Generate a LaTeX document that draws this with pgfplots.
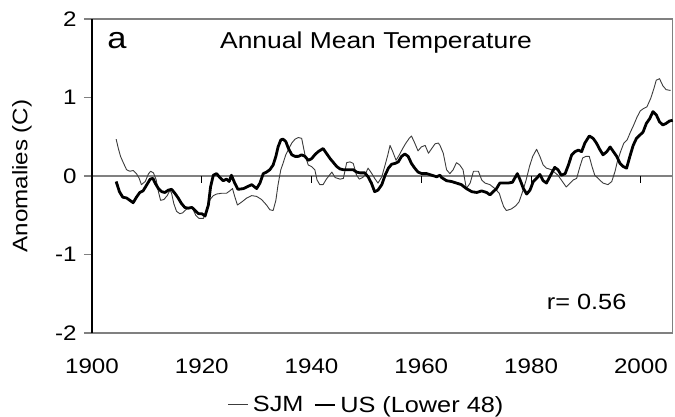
\documentclass[border=0pt]{standalone}
\usepackage{fontspec}
\setmainfont{Liberation Sans}[FakeStretch=1.15]
\usepackage{pgfplots}
\pgfplotsset{compat=1.18}
\definecolor{boxgray}{RGB}{128,128,128}
\definecolor{thingray}{RGB}{60,60,60}
\begin{document}
\begin{tikzpicture}
\path[use as bounding box] (-92bp,-84bp) rectangle (583bp,333bp);
\begin{axis}[
  scale only axis,
  width=580.7bp, height=314bp,
  xmin=1900, xmax=2005.8,
  ymin=-2, ymax=2,
  ytick={-2,-1,0,1,2},
  yticklabels={-2,-1,0,1,2},
  xtick={1900,1920,1940,1960,1980,2000},
  xticklabels={1900,1920,1940,1960,1980,2000},
  ytick pos=left,
  tick align=outside,
  major tick length=8bp,
  ytick style={draw=boxgray, line width=1.2bp},
  xtick style={draw=none},
  axis line style={draw=boxgray, line width=1.2bp},
  xticklabel style={font=\fontsize{21bp}{25bp}\selectfont, yshift=-14bp},
  yticklabel style={font=\fontsize{21bp}{25bp}\selectfont, xshift=-4bp},
  ylabel={Anomalies (C)},
  every axis y label/.style={at={(axis description cs:-0.1205,0.5)}, rotate=90, anchor=center, font=\fontsize{21bp}{25bp}\selectfont},
  clip=false,
  legend columns=2,
  legend style={at={(axis description cs:0.473,-0.229)}, anchor=center, draw=none, fill=none,
    font=\fontsize{22bp}{26bp}\selectfont, inner sep=0pt,
    /tikz/every even column/.append style={column sep=8bp},
    /tikz/every odd column/.append style={column sep=2bp}},
  legend image code/.code={\draw[#1] (0bp,0bp) -- (20bp,0bp);},
]
% zero line
\addplot[boxgray, line width=1.4bp, forget plot] coordinates {(1900,0) (2005.8,0)};
% x tick marks on zero line
\addplot[black, line width=0.8bp, ycomb, forget plot] coordinates {(1920,-0.085) (1940,-0.085) (1960,-0.085) (1980,-0.085) (2000,-0.085)};
% SJM
\addplot[thingray, line width=0.9bp, line join=round] coordinates {
(1904.4,0.47)(1904.8,0.35)(1905.2,0.25)(1905.7,0.17)(1906.3,0.08)(1906.9,0.06)(1907.5,0.07)(1908.1,0.03)
(1908.6,-0.03)(1909.0,-0.11)(1909.7,-0.07)(1910.3,0.03)(1910.7,0.06)(1911.2,0.04)(1911.7,-0.05)(1912.1,-0.20)
(1912.5,-0.31)(1913.1,-0.30)(1913.7,-0.25)(1914.2,-0.18)(1914.5,-0.22)(1914.9,-0.35)(1915.4,-0.45)(1916.0,-0.48)
(1916.5,-0.47)(1917.1,-0.43)(1917.7,-0.40)(1918.3,-0.41)(1918.9,-0.50)(1919.5,-0.54)(1920.3,-0.54)(1920.9,-0.43)
(1921.5,-0.30)(1922.1,-0.25)(1922.7,-0.23)(1923.6,-0.22)(1924.5,-0.22)(1925.1,-0.19)(1925.6,-0.16)(1926.0,-0.26)
(1926.5,-0.37)(1927.3,-0.33)(1928.2,-0.28)(1929.1,-0.25)(1930.0,-0.26)(1930.9,-0.30)(1931.8,-0.37)(1932.4,-0.43)
(1933.0,-0.44)(1933.5,-0.31)(1933.9,-0.11)(1934.4,0.08)(1934.8,0.16)(1935.3,0.27)(1935.8,0.34)(1936.4,0.42)
(1937.0,0.47)(1937.6,0.49)(1938.2,0.48)(1938.8,0.27)(1939.4,0.14)(1940.0,0.12)(1940.6,0.08)(1941.0,-0.05)
(1941.5,-0.11)(1942.1,-0.11)(1942.7,-0.04)(1943.7,0.05)(1944.3,-0.02)(1945.2,-0.04)(1945.8,-0.03)(1946.4,0.17)
(1947.0,0.18)(1947.6,0.16)(1948.2,0.01)(1948.7,-0.04)(1949.3,-0.02)(1949.7,0.01)(1950.3,0.10)(1950.9,0.04)
(1951.5,-0.03)(1952.1,-0.09)(1952.8,-0.01)(1953.4,0.14)(1953.9,0.27)(1954.3,0.39)(1954.8,0.31)(1955.4,0.20)
(1956.0,0.27)(1956.6,0.35)(1957.2,0.42)(1957.8,0.48)(1958.2,0.51)(1958.8,0.42)(1959.4,0.32)(1960.0,0.37)
(1960.7,0.39)(1961.3,0.29)(1961.9,0.35)(1962.5,0.41)(1963.1,0.42)(1963.4,0.39)(1964.0,0.29)(1964.6,0.08)
(1965.2,0.03)(1965.8,0.08)(1966.4,0.17)(1967.0,0.14)(1967.6,0.08)(1968.2,-0.16)(1968.9,-0.09)(1969.5,0.06)
(1970.4,0.06)(1971.0,-0.05)(1971.6,-0.09)(1972.5,-0.11)(1973.4,-0.16)(1974.2,-0.22)(1974.6,-0.31)(1975.0,-0.39)
(1975.5,-0.44)(1976.4,-0.42)(1977.2,-0.38)(1977.8,-0.33)(1978.4,-0.21)(1979.1,-0.05)(1979.7,0.12)(1980.3,0.25)
(1981.0,0.34)(1981.6,0.25)(1982.2,0.14)(1982.8,0.10)(1983.7,0.08)(1984.9,0.01)(1985.5,-0.05)(1986.4,-0.14)
(1987.1,-0.09)(1987.7,-0.05)(1988.3,-0.03)(1988.9,0.12)(1989.4,0.23)(1990.0,0.25)(1990.6,0.25)(1991.1,0.12)
(1991.6,0.01)(1992.2,-0.03)(1993.1,-0.09)(1994.0,-0.11)(1994.7,-0.07)(1995.3,0.06)(1995.7,0.18)(1996.3,0.31)
(1996.9,0.42)(1997.5,0.46)(1998.1,0.56)(1998.7,0.65)(1999.3,0.75)(1999.9,0.83)(2000.5,0.86)(2001.1,0.88)
(2001.8,0.99)(2002.4,1.12)(2002.8,1.22)(2003.4,1.24)(2004.0,1.15)(2004.6,1.10)(2005.4,1.09)
};
\addlegendentry{SJM}
% US (Lower 48)
\addplot[black, line width=2.8bp, line join=round] coordinates {
(1904.4,-0.07)(1905.0,-0.20)(1905.6,-0.27)(1906.3,-0.28)(1906.9,-0.31)(1907.5,-0.34)(1908.1,-0.27)(1908.7,-0.21)
(1909.3,-0.19)(1910.0,-0.11)(1910.6,-0.04)(1911.1,-0.03)(1911.5,-0.09)(1912.1,-0.16)(1912.7,-0.20)(1913.3,-0.21)
(1913.9,-0.18)(1914.5,-0.17)(1915.1,-0.22)(1915.7,-0.28)(1916.3,-0.35)(1916.9,-0.40)(1917.5,-0.41)(1918.2,-0.40)
(1918.8,-0.44)(1919.4,-0.48)(1920.0,-0.48)(1920.6,-0.51)(1921.2,-0.37)(1921.6,-0.14)(1922.1,0.01)(1922.7,0.03)
(1923.3,-0.02)(1923.9,-0.06)(1924.5,-0.04)(1925.0,-0.07)(1925.4,0.01)(1926.0,-0.09)(1926.6,-0.17)(1927.6,-0.16)
(1928.5,-0.13)(1929.1,-0.11)(1930.0,-0.16)(1930.6,-0.09)(1931.2,0.03)(1931.8,0.05)(1932.4,0.08)(1933.0,0.14)
(1933.5,0.25)(1933.9,0.37)(1934.4,0.46)(1934.8,0.47)(1935.3,0.44)(1935.8,0.35)(1936.4,0.27)(1937.0,0.25)
(1937.6,0.25)(1938.2,0.27)(1938.8,0.25)(1939.4,0.20)(1940.0,0.22)(1940.6,0.27)(1941.2,0.31)(1942.1,0.35)
(1942.7,0.29)(1943.4,0.22)(1944.0,0.17)(1944.6,0.12)(1945.2,0.09)(1945.8,0.08)(1946.7,0.08)(1947.6,0.08)
(1948.2,0.05)(1948.8,0.04)(1949.7,0.04)(1950.3,-0.01)(1950.9,-0.09)(1951.5,-0.20)(1952.1,-0.18)(1952.8,-0.11)
(1953.4,0.01)(1954.0,0.10)(1954.6,0.15)(1955.2,0.16)(1955.8,0.18)(1956.4,0.25)(1957.0,0.28)(1957.6,0.25)
(1958.2,0.16)(1958.8,0.10)(1959.4,0.05)(1960.1,0.03)(1961.0,0.03)(1961.9,0.01)(1962.8,-0.01)(1963.4,0.01)
(1963.7,-0.02)(1964.6,-0.06)(1965.5,-0.07)(1966.4,-0.09)(1967.3,-0.11)(1968.2,-0.16)(1969.2,-0.20)(1970.1,-0.21)
(1971.0,-0.19)(1971.9,-0.21)(1972.5,-0.24)(1973.1,-0.20)(1973.7,-0.16)(1974.3,-0.09)(1974.9,-0.09)(1975.8,-0.09)
(1976.6,-0.08)(1977.0,-0.03)(1977.5,0.03)(1978.0,-0.05)(1978.6,-0.16)(1979.2,-0.23)(1979.8,-0.18)(1980.4,-0.07)
(1981.0,-0.03)(1981.6,0.02)(1982.2,-0.06)(1982.8,-0.09)(1983.4,-0.01)(1984.3,0.11)(1984.9,0.08)(1985.5,0.01)
(1986.2,0.03)(1986.8,0.14)(1987.4,0.27)(1988.0,0.31)(1988.6,0.33)(1989.2,0.31)(1989.8,0.42)(1990.6,0.51)
(1991.3,0.48)(1991.9,0.42)(1992.5,0.34)(1993.1,0.27)(1993.8,0.31)(1994.4,0.37)(1995.0,0.31)(1995.6,0.25)
(1996.2,0.16)(1996.8,0.12)(1997.4,0.10)(1998.0,0.25)(1998.6,0.39)(1999.2,0.48)(1999.8,0.52)(2000.4,0.56)
(2001.0,0.67)(2001.6,0.73)(2002.2,0.82)(2002.8,0.78)(2003.4,0.69)(2004.0,0.65)(2004.6,0.67)(2005.2,0.70)
(2005.8,0.71)
};
\addlegendentry{US (Lower 48)}
% left axis line in black
\draw[black, line width=1.2bp] (rel axis cs:0,0) -- (rel axis cs:0,1);
\node[anchor=base west, font=\fontsize{30bp}{34bp}\selectfont, inner sep=0pt] at (axis description cs:0.026,0.9076) {a};
\node[anchor=base, font=\fontsize{23bp}{27bp}\selectfont, inner sep=0pt] at (axis description cs:0.489,0.9076) {Annual Mean Temperature};
\node[anchor=base west, font=\fontsize{22bp}{26bp}\selectfont, inner sep=0pt] at (axis description cs:0.783,0.0764) {r= 0.56};
\end{axis}
\end{tikzpicture}
\end{document}
